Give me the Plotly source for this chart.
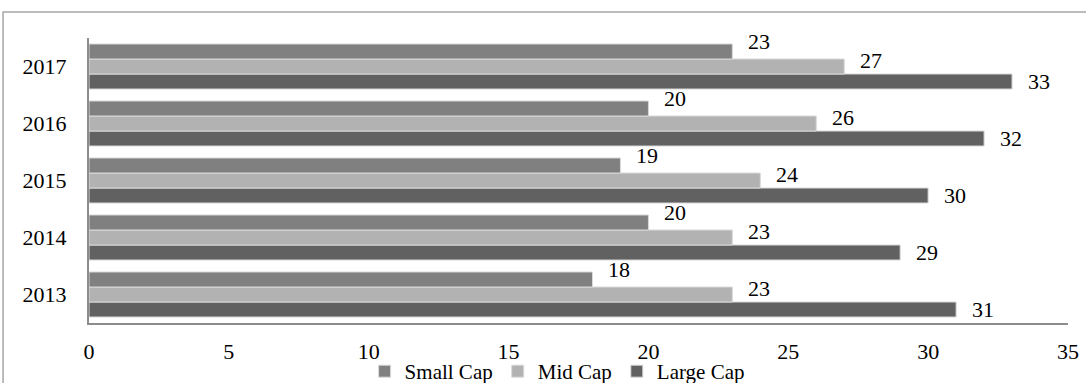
import plotly.graph_objects as go

years = ["2013", "2014", "2015", "2016", "2017"]
small_cap = [18, 20, 19, 20, 23]
mid_cap = [23, 23, 24, 26, 27]
large_cap = [31, 29, 30, 32, 33]
x_ticks = [0, 5, 10, 15, 20, 25, 30, 35]

FONT = "Liberation Serif"

# (name, values, colour, label lift in px, position within the group in px)
series = [
    ("Large Cap", large_cap, "#616161", 0, -15),
    ("Mid Cap", mid_cap, "#b2b2b2", 6, 0),
    ("Small Cap", small_cap, "#808080", 10, 15),
]

fig = go.Figure()
annotations = []
for name, vals, color, lift, pos in series:
    fig.add_trace(go.Bar(
        name=name, y=list(years), x=list(vals), orientation="h",
        marker=dict(color=color, line=dict(color="#d9d9d9", width=1)),
    ))
    # category axes place annotations by category index
    for idx, v in enumerate(vals):
        annotations.append(dict(
            x=v, y=idx, xref="x", yref="y", text=str(v), showarrow=False,
            xanchor="left", yanchor="middle", xshift=14, yshift=pos + lift,
            font=dict(family=FONT, size=22, color="#000000"),
        ))

fig.update_layout(
    width=1086, height=383,
    margin=dict(l=89, r=18, t=38, b=60, autoexpand=False),
    paper_bgcolor="white", plot_bgcolor="white",
    barmode="group", bargap=0.21,
    font=dict(family=FONT, size=22, color="#000000"),
    showlegend=True,
    legend=dict(
        orientation="h", traceorder="reversed",
        xref="container", yref="container",
        x=0.513, xanchor="center", y=0.03, yanchor="middle",
        font=dict(family=FONT, size=21, color="#000000"),
        bgcolor="rgba(0,0,0,0)",
    ),
    annotations=annotations,
    shapes=[dict(
        type="rect", xref="paper", yref="paper",
        x0=-0.0878, x1=1.2, y0=-0.6, y1=1.091,
        line=dict(color="#a6a6a6", width=1.5),
    )],
)

fig.update_xaxes(
    range=[0, 35], tickvals=x_ticks, showgrid=False, zeroline=False,
    showline=True, linecolor="#8c8c8c", linewidth=2,
    ticks="outside", ticklen=8, tickcolor="rgba(0,0,0,0)",
    tickfont=dict(family=FONT, size=22, color="#000000"),
)
fig.update_yaxes(
    type="category", range=[-0.5, len(years) - 0.5],
    showgrid=False, zeroline=False, showline=True,
    linecolor="#8c8c8c", linewidth=2,
    ticks="outside", ticklen=16, tickcolor="rgba(0,0,0,0)",
    tickfont=dict(family=FONT, size=22, color="#000000"),
)

fig.write_html("out.html")
